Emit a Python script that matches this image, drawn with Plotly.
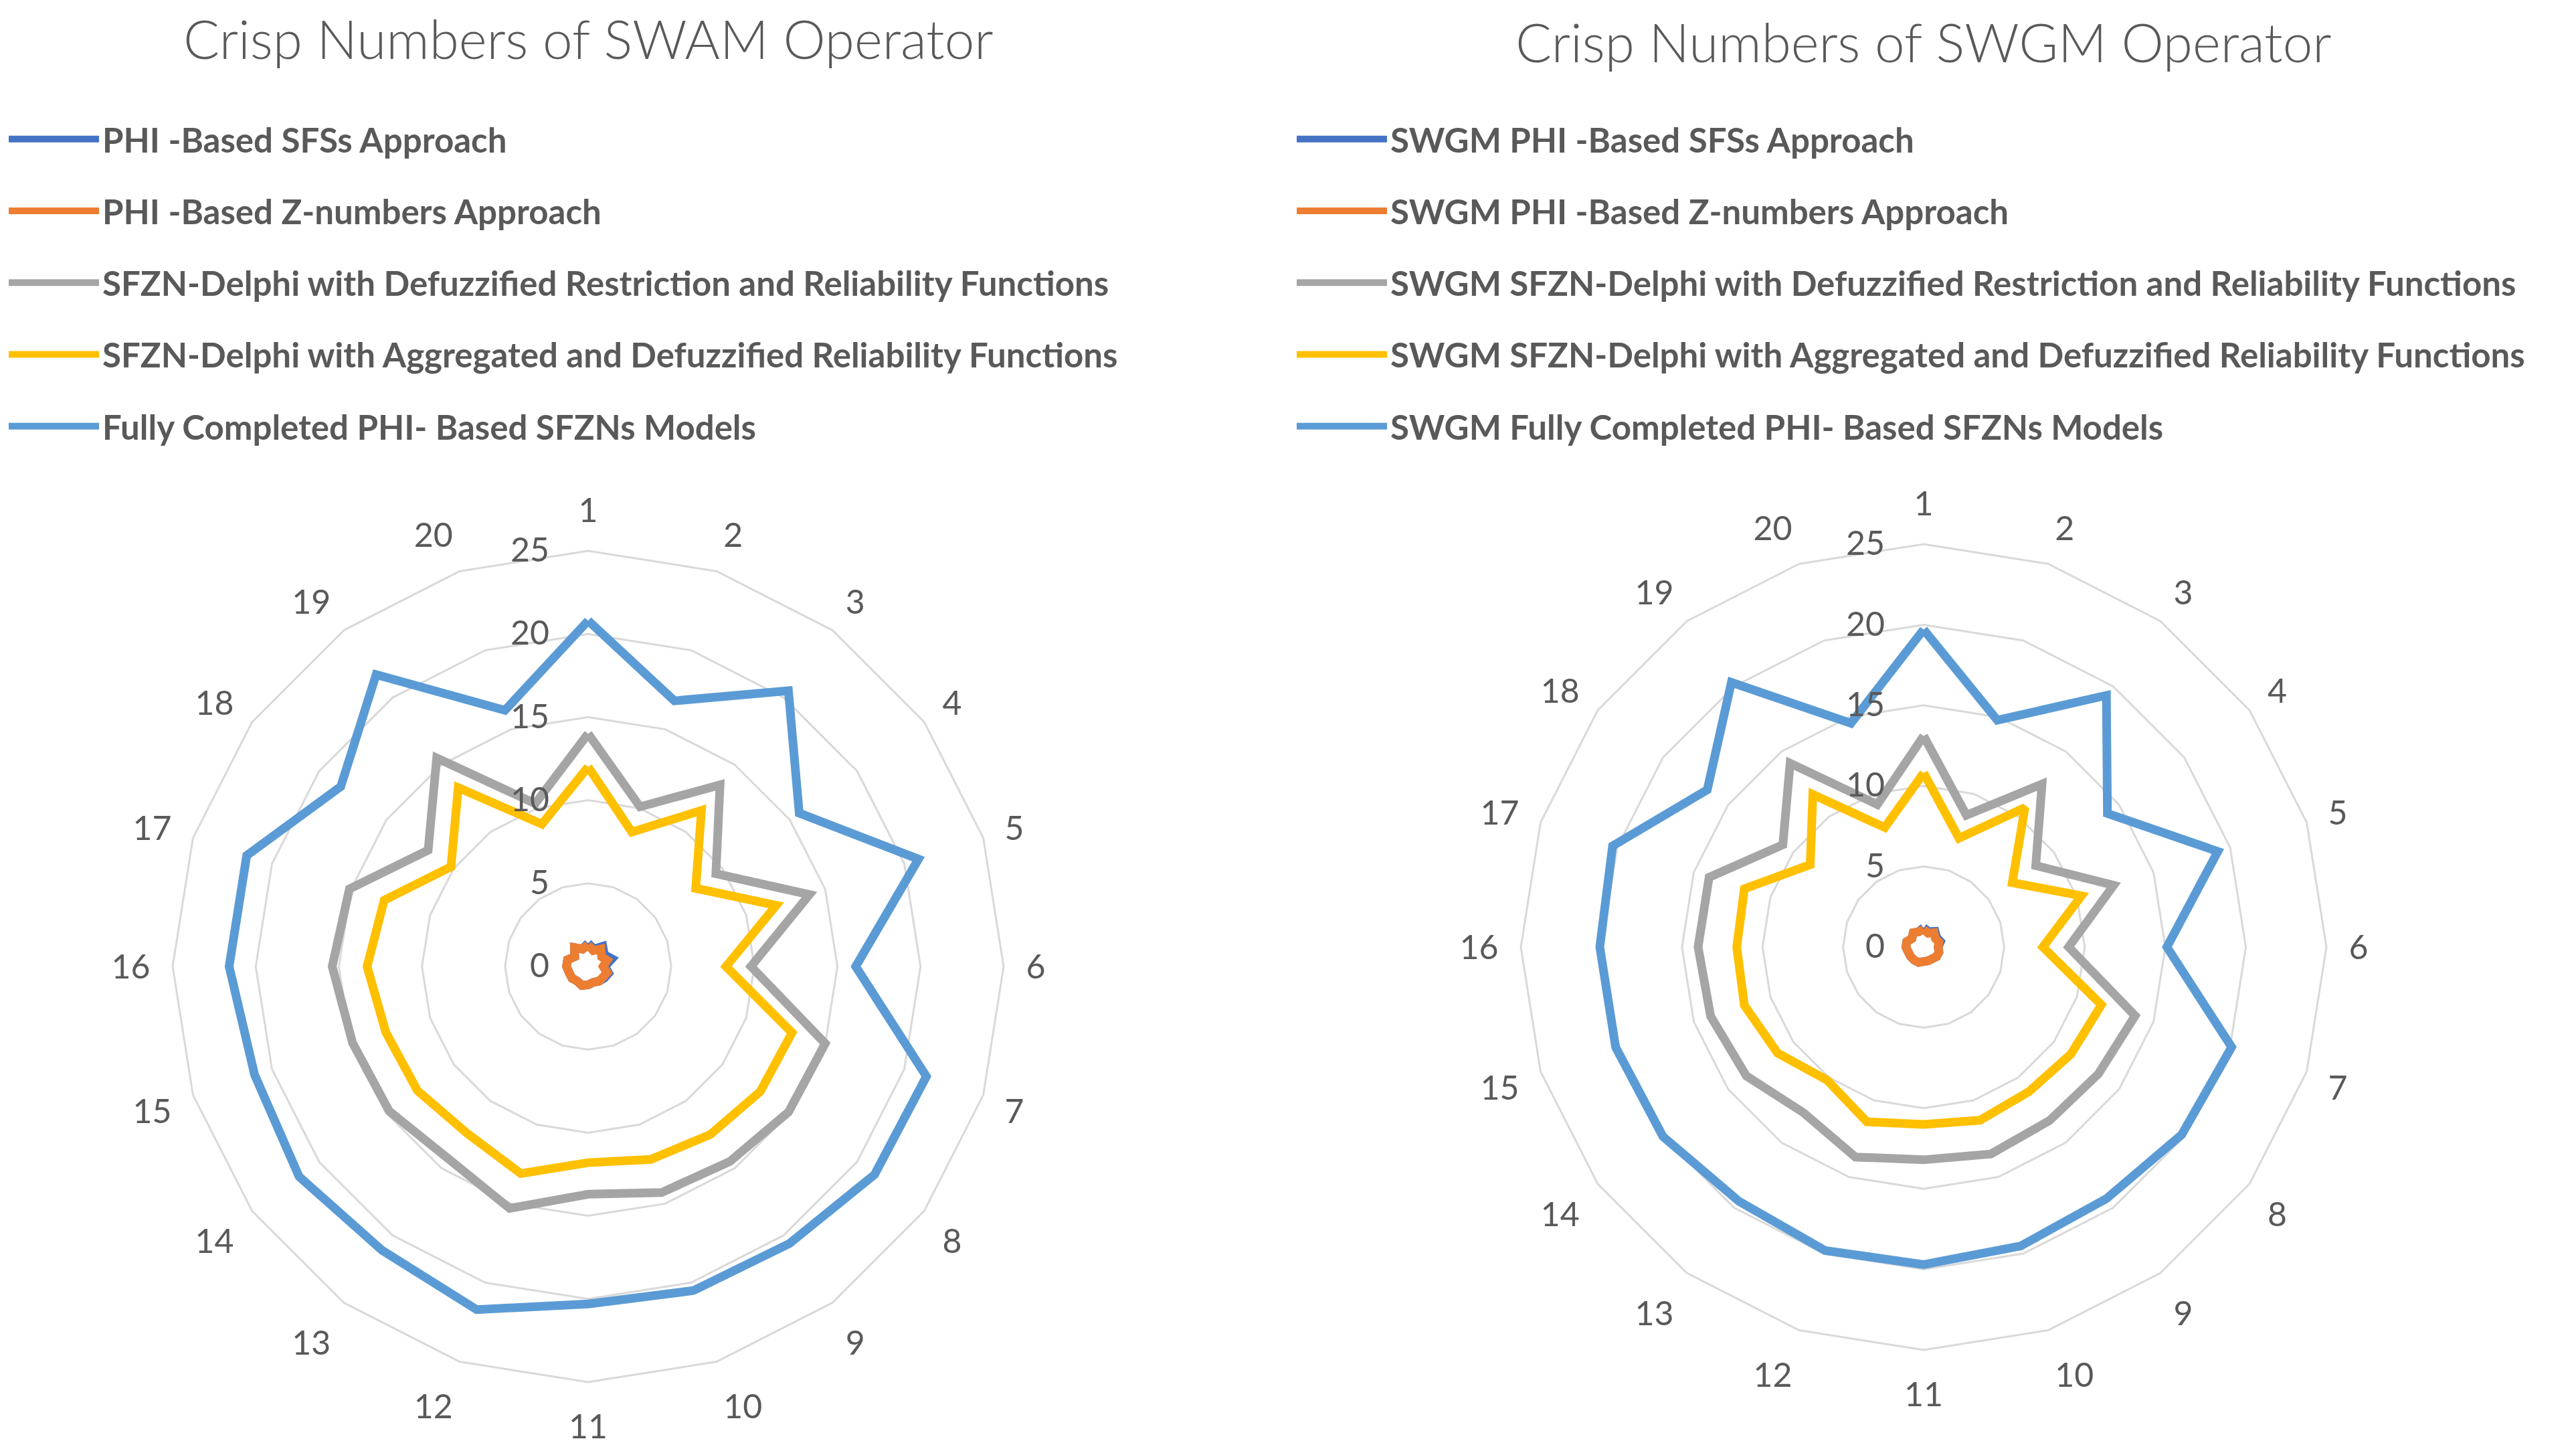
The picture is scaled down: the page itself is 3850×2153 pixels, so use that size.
import plotly.graph_objects as go

categories = [str(i) for i in range(1, 21)]

# SWAM operator (left chart)
swam_names = [
    "PHI -Based SFSs Approach",
    "PHI -Based Z-numbers Approach",
    "SFZN-Delphi with Defuzzified Restriction and Reliability Functions",
    "SFZN-Delphi with Aggregated and Defuzzified Reliability Functions",
    "Fully Completed PHI- Based SFZNs Models",
]
swam_sfs = [1.4, 1.1, 1.5, 1.2, 1.5, 1.0, 1.3, 1.2, 1.1, 1.0, 1.1, 1.2, 1.1, 1.2, 1.2, 1.3, 1.3, 1.0, 1.4, 1.1]
swam_z = [1.3, 1.0, 1.3, 1.0, 1.2, 0.9, 1.2, 1.1, 1.1, 1.0, 1.1, 1.2, 1.1, 1.2, 1.2, 1.3, 1.3, 1.0, 1.4, 1.1]
swam_restr = [14.0, 10.1, 13.5, 9.5, 14.0, 9.8, 15.0, 14.9, 14.5, 14.3, 13.7, 15.3, 14.3, 14.8, 14.9, 15.4, 15.1, 11.9, 15.5, 10.3]
swam_aggr = [12.0, 8.5, 11.6, 8.0, 11.9, 8.3, 12.9, 12.8, 12.5, 12.2, 11.8, 13.1, 12.4, 12.7, 12.8, 13.3, 12.9, 10.2, 13.3, 9.0]
swam_full = [20.8, 16.8, 20.5, 15.7, 20.9, 16.1, 21.4, 21.3, 20.6, 20.5, 20.3, 21.7, 21.1, 21.5, 21.1, 21.6, 21.6, 18.4, 21.7, 16.2]

# SWGM operator (right chart)
swgm_names = [
    "SWGM PHI -Based SFSs Approach",
    "SWGM PHI -Based Z-numbers Approach",
    "SWGM SFZN-Delphi with Defuzzified Restriction and Reliability Functions",
    "SWGM SFZN-Delphi with Aggregated and Defuzzified Reliability Functions",
    "SWGM Fully Completed PHI- Based SFZNs Models",
]
swgm_sfs = [1.2, 1.0, 1.2, 1.0, 1.1, 0.9, 1.0, 1.0, 0.9, 0.9, 0.9, 1.0, 1.0, 1.0, 1.0, 1.1, 1.1, 0.9, 1.1, 1.0]
swgm_z = [1.1, 0.9, 1.1, 0.9, 1.0, 0.9, 1.0, 1.0, 0.9, 0.9, 0.9, 1.0, 1.0, 1.0, 1.0, 1.1, 1.1, 0.9, 1.1, 1.0]
swgm_restr = [13.1, 8.6, 12.5, 8.6, 12.4, 9.0, 13.8, 13.4, 13.3, 13.5, 13.2, 13.7, 12.7, 13.6, 13.9, 14.0, 14.0, 10.8, 14.1, 9.3]
swgm_aggr = [10.8, 7.1, 10.7, 6.8, 10.3, 7.4, 11.6, 11.3, 11.1, 11.3, 11.0, 11.4, 10.2, 11.2, 11.7, 11.6, 11.7, 8.7, 11.7, 7.8]
swgm_full = [19.7, 14.8, 19.3, 14.1, 19.2, 15.1, 20.1, 19.8, 19.3, 19.5, 19.7, 19.8, 19.5, 20.0, 20.1, 20.1, 20.3, 16.6, 20.3, 14.6]

radial_ticks = [0, 5, 10, 15, 20, 25]

colors = ["#4472C4", "#ED7D31", "#A5A5A5", "#FFC000", "#5B9BD5"]
TXT = "#595959"
FONT = "Lato"

fig = go.Figure()


def closed(v):
    return list(v) + [v[0]]


theta_closed = closed(categories)

for name, vals, col in zip(swam_names, [swam_sfs, swam_z, swam_restr, swam_aggr, swam_full], colors):
    fig.add_trace(go.Scatterpolar(
        r=closed(vals), theta=theta_closed, mode="lines", name=name,
        line=dict(color=col, width=13), subplot="polar", legend="legend",
        legendgroup="L" + name,
    ))

for name, vals, col in zip(swgm_names, [swgm_sfs, swgm_z, swgm_restr, swgm_aggr, swgm_full], colors):
    fig.add_trace(go.Scatterpolar(
        r=closed(vals), theta=theta_closed, mode="lines", name=name,
        line=dict(color=col, width=13), subplot="polar2", legend="legend2",
        legendgroup="R" + name,
    ))

W, H = 3850, 2153


def polar_layout(cx, cy, rad):
    x0 = (cx - rad) / W
    x1 = (cx + rad) / W
    yb = H - cy
    y0 = (yb - rad) / H
    y1 = (yb + rad) / H
    return dict(
        domain=dict(x=[x0, x1], y=[y0, y1]),
        bgcolor="white",
        gridshape="linear",
        radialaxis=dict(
            range=[0, 25], tickvals=radial_ticks, angle=90, side="counterclockwise",
            showline=False, ticks="outside", ticklen=40, tickcolor="rgba(0,0,0,0)",
            gridcolor="#D9D9D9", gridwidth=3,
            tickfont=dict(family=FONT, size=50, color=TXT), tickangle=90,
        ),
        angularaxis=dict(
            categoryorder="array", categoryarray=categories,
            rotation=90, direction="clockwise",
            showgrid=False, showline=True, linecolor="#D9D9D9", linewidth=3,
            ticks="outside", ticklen=22, tickcolor="rgba(0,0,0,0)",
            tickfont=dict(family=FONT, size=50, color=TXT),
        ),
    )


legend_common = dict(
    font=dict(family=FONT, size=51, color=TXT, weight="bold"),
    bgcolor="rgba(0,0,0,0)",
    itemwidth=135,
    tracegroupgap=38,
    traceorder="grouped",
    xanchor="left", yanchor="top",
    itemclick=False, itemdoubleclick=False,
)

fig.update_layout(
    width=W, height=H,
    paper_bgcolor="white",
    margin=dict(l=0, r=0, t=0, b=0),
    showlegend=True,
    polar=polar_layout(871, 1436, 621),
    polar2=polar_layout(2867, 1407, 602),
    legend=dict(x=0.0, y=1 - 160 / H, **legend_common),
    legend2=dict(x=1925 / W, y=1 - 160 / H, **legend_common),
    annotations=[
        dict(text="Crisp Numbers of SWAM Operator", x=871 / W, y=1 - 49 / H,
             xref="paper", yref="paper", xanchor="center", yanchor="middle",
             showarrow=False, font=dict(family=FONT, size=80, color=TXT, weight=300)),
        dict(text="Crisp Numbers of SWGM Operator", x=2867 / W, y=1 - 54 / H,
             xref="paper", yref="paper", xanchor="center", yanchor="middle",
             showarrow=False, font=dict(family=FONT, size=80, color=TXT, weight=300)),
    ],
)

fig.write_html("out.html")
